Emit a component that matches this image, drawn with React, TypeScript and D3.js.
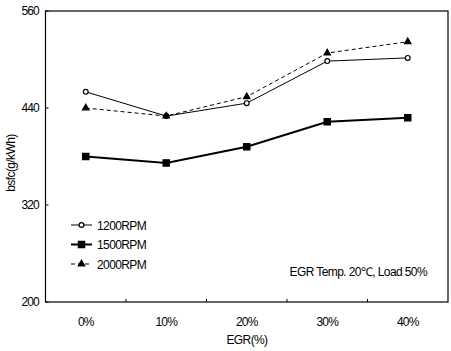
import React from "react";
import * as d3 from "d3";

const categories = ["0%", "10%", "20%", "30%", "40%"];
const rpm1200 = [460, 430, 446, 498, 502];
const rpm1500 = [380, 372, 392, 423, 428];
const rpm2000 = [440, 430, 454, 508, 522];
const yTicks = [200, 320, 440, 560];
const seriesNames = ["1200RPM", "1500RPM", "2000RPM"];

const W = 451, H = 351;
const m = { left: 45.5, right: 3, top: 11, bottom: 49 };
const FONT = "'Liberation Sans', Arial, sans-serif";

export default function App() {
  const x = d3.scaleBand<string>().domain(categories).range([m.left, W - m.right]);
  const y = d3.scaleLinear().domain([200, 560]).range([H - m.bottom, m.top]);
  const cx = (c: string) => (x(c) as number) + x.bandwidth() / 2;
  const line = d3.line<number>().x((_, i) => cx(categories[i])).y((v) => y(v));
  const tri = d3.symbol().type(d3.symbolTriangle).size(18)() as string;
  const sq = d3.symbol().type(d3.symbolSquare).size(40)() as string;
  const dia = d3.symbol().type(d3.symbolCircle).size(18)() as string;

  const series = [
    { name: seriesNames[0], data: rpm1200, sw: 1, dash: undefined as string | undefined, marker: dia, fill: "#fff" },
    { name: seriesNames[1], data: rpm1500, sw: 2, dash: undefined, marker: sq, fill: "#000" },
    { name: seriesNames[2], data: rpm2000, sw: 1, dash: "4,3", marker: tri, fill: "#000" },
  ];
  const drawOrder = [series[1], series[0], series[2]];
  const x0 = m.left, x1 = W - m.right, y0 = H - m.bottom, y1 = m.top;

  return (
    <svg width={W} height={H} style={{ position: "absolute", left: 0, top: 0, background: "#fff" }}
      fontFamily={FONT}>
      <rect x={0} y={0} width={W} height={H} fill="#fff" />
      <rect x={x0} y={y1} width={x1 - x0} height={y0 - y1} fill="none" stroke="#000" strokeWidth={1.2} />
      {yTicks.map((t) => (
        <g key={t}>
          <line x1={x0} x2={x0 + 3} y1={y(t)} y2={y(t)} stroke="#000" />
          <text x={39} y={y(t) + 4} textAnchor="end" fontSize={12} letterSpacing={-0.8}>{t}</text>
        </g>
      ))}
      {categories.slice(1).map((c) => (
        <line key={c} x1={x(c) as number} x2={x(c) as number} y1={y0} y2={y0 - 3} stroke="#000" />
      ))}
      {categories.map((c) => (
        <text key={c} x={cx(c)} y={326} textAnchor="middle" fontSize={12} letterSpacing={-0.8}>{c}</text>
      ))}
      <text x={247} y={344} textAnchor="middle" fontSize={12} letterSpacing={-0.6}>EGR(%)</text>
      <text transform={`translate(15,163) rotate(-90)`} textAnchor="middle" fontSize={12} letterSpacing={-0.6}>bsfc(g/kWh)</text>
      {drawOrder.map((s) => (
        <g key={s.name}>
          <path d={line(s.data) as string} fill="none" stroke="#000" strokeWidth={s.sw} strokeDasharray={s.dash} />
          {s.data.map((v, i) => (
            <path key={i} d={s.marker} transform={`translate(${cx(categories[i])},${y(v)})`}
              fill={s.fill} stroke="#000" strokeWidth={1.2} />
          ))}
        </g>
      ))}
      {series.map((s, i) => {
        const ly = 225 + i * 19.5;
        return (
          <g key={s.name}>
            <line x1={71} x2={92} y1={ly} y2={ly} stroke="#000" strokeWidth={s.sw} strokeDasharray={s.dash} />
            <path d={s.marker} transform={`translate(81.5,${ly})`} fill={s.fill} stroke="#000" strokeWidth={1.2} />
            <text x={97} y={ly + 4.5} fontSize={12} letterSpacing={-0.6}>{s.name}</text>
          </g>
        );
      })}
      <text x={427} y={276} textAnchor="end" fontSize={12} letterSpacing={-0.6}>EGR Temp. 20℃, Load 50%</text>
    </svg>
  );
}
